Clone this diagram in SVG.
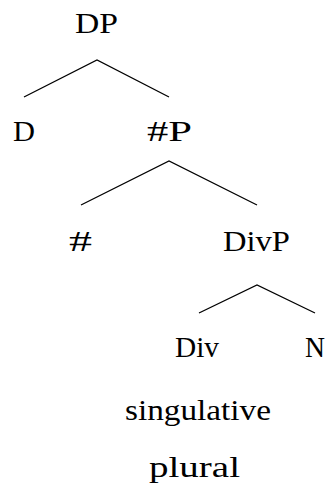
<svg xmlns="http://www.w3.org/2000/svg" width="328" height="493" viewBox="0 0 328 493">
<style>
text{font-family:"Liberation Serif","Times New Roman",serif;font-size:29px;fill:#000;text-anchor:middle}
.e{stroke:#000;stroke-width:1.3;fill:none}
</style>
<rect width="328" height="493" fill="#fff"/>
<g id="connectors">
<polyline class="e" points="24,97 97,60 169,97"/>
<polyline class="e" points="81,205 169,161 257,205"/>
<polyline class="e" points="199,313 257,285 315,313"/>
</g>
<g id="DP"><text x="96.5" y="33" textLength="43" lengthAdjust="spacingAndGlyphs">DP</text></g>
<g id="D"><text x="24" y="141" textLength="22" lengthAdjust="spacingAndGlyphs">D</text></g>
<g id="hashP"><text x="169.5" y="141" textLength="45" lengthAdjust="spacingAndGlyphs">#P</text></g>
<g id="hash"><text x="80.5" y="251" textLength="23" lengthAdjust="spacingAndGlyphs">#</text></g>
<g id="DivP"><text x="256.5" y="251" textLength="67" lengthAdjust="spacingAndGlyphs">DivP</text></g>
<g id="Div"><text x="197" y="357" textLength="44" lengthAdjust="spacingAndGlyphs">Div</text></g>
<g id="N"><text x="315" y="357" textLength="20" lengthAdjust="spacingAndGlyphs">N</text></g>
<g id="singulative"><text x="198" y="420" textLength="146" lengthAdjust="spacingAndGlyphs">singulative</text></g>
<g id="plural"><text x="194.5" y="477" textLength="91" lengthAdjust="spacingAndGlyphs">plural</text></g>
</svg>
